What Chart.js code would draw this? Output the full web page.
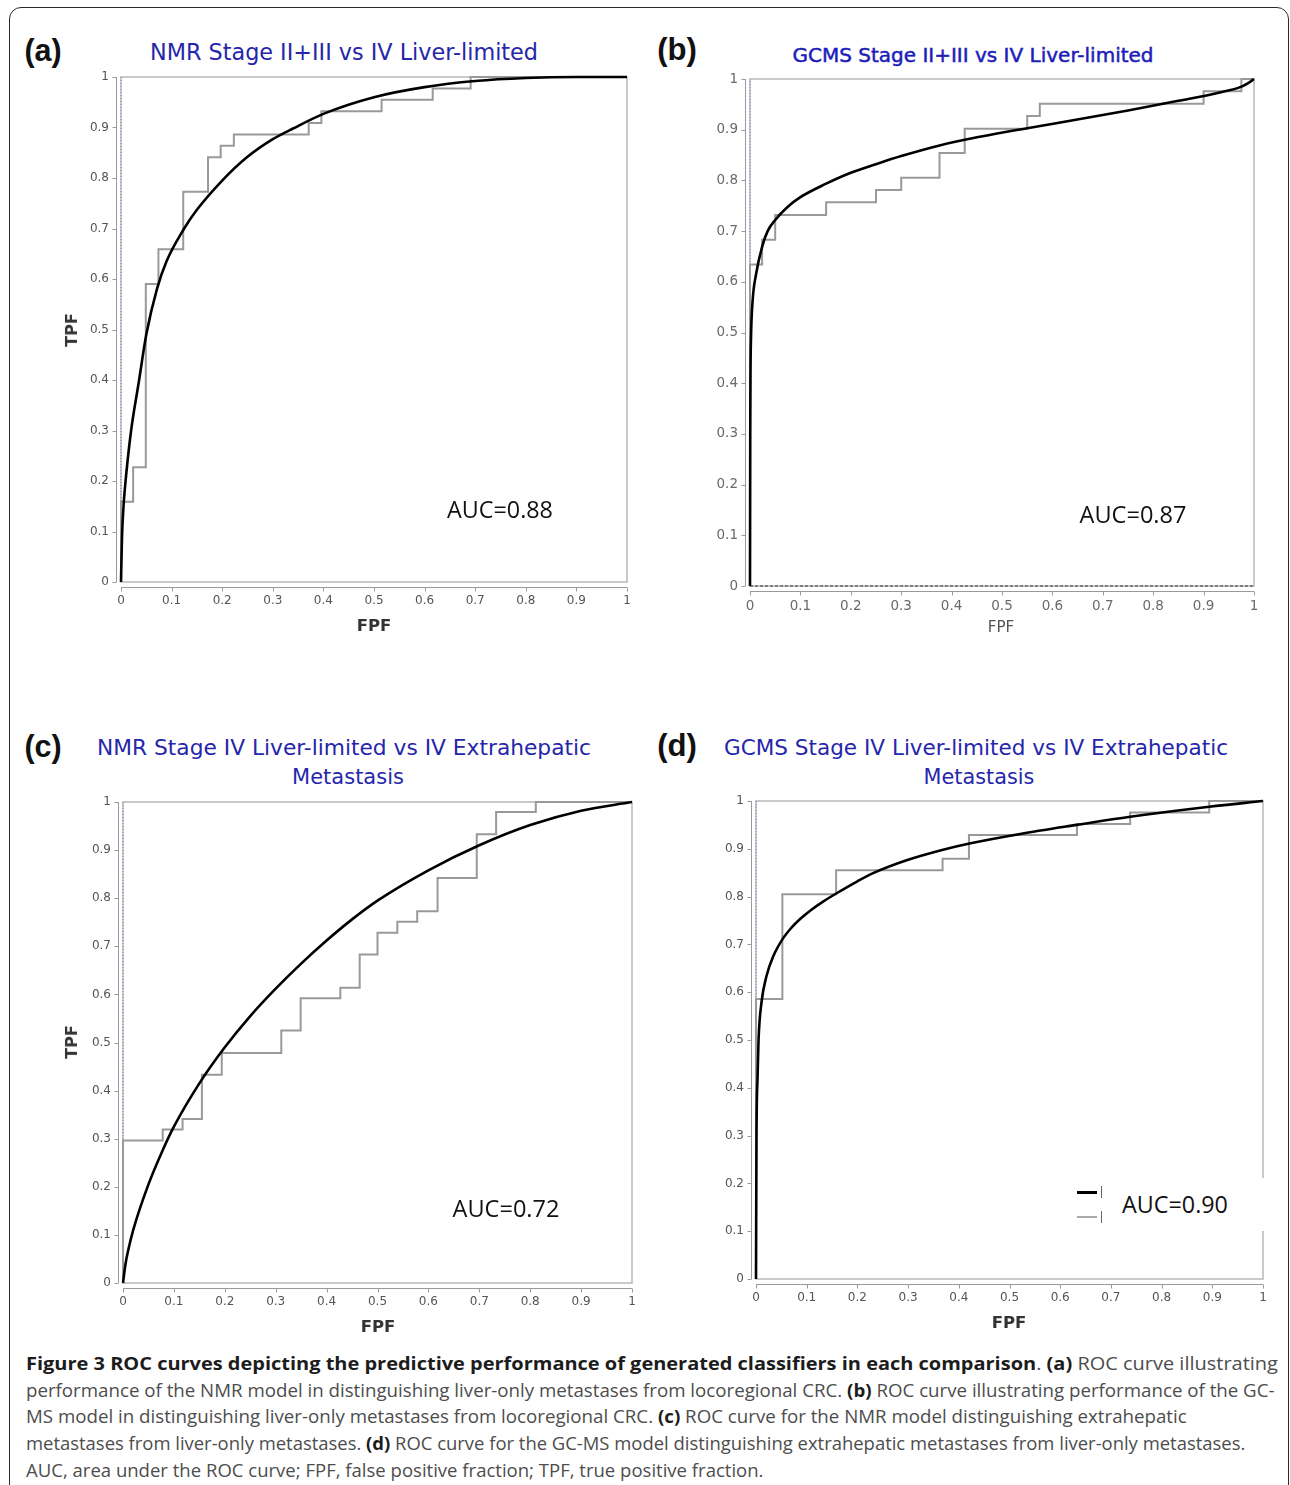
<!DOCTYPE html>
<html>
<head>
<meta charset="utf-8">
<script src="https://cdn.jsdelivr.net/npm/chart.js@4.4.1/dist/chart.umd.min.js"></script>
<style>
body { margin:0; background:#fff; overflow:hidden; }
#fig { position:relative; width:1290px; height:1485px; overflow:hidden; }
#frame { position:absolute; left:9px; top:7px; width:1278px; height:1540px; border:1.5px solid #2b2b2b; border-radius:12px; }
canvas { position:absolute; }
.t { position:absolute; white-space:nowrap; transform:translate(-50%,-50%); line-height:1; }
.cap { position:absolute; left:26px; white-space:nowrap; font-family:"Open Sans"; font-size:17.5px; color:#4d4d4d; transform-origin:0 50%; line-height:1; }
.cap b { color:#1c1c1c; }
#leg { position:absolute; left:1070px; top:1178px; width:200px; height:53px; background:#fff; }
.lg { position:absolute; }
</style>
</head>
<body>
<div id="fig">
  <div id="frame"></div>
</div>
<script>
// ---- data ----
// (a) NMR Stage II+III vs IV Liver-limited
const stepFprA = [0, 0, 0.024, 0.049, 0.074, 0.123, 0.172, 0.197, 0.223, 0.371, 0.396, 0.515, 0.616, 0.691, 1]
const stepTprA = [0, 0.159, 0.227, 0.590, 0.659, 0.773, 0.841, 0.864, 0.886, 0.909, 0.932, 0.955, 0.977, 1, 1]
const curveFprA = [0, 0.002, 0.005, 0.01, 0.02, 0.035, 0.05, 0.071, 0.09, 0.123, 0.15, 0.2, 0.25, 0.3, 0.34, 0.4, 0.5, 0.6, 0.7, 0.8, 0.9, 1]
const curveTprA = [0, 0.09, 0.15, 0.21, 0.30, 0.395, 0.49, 0.58, 0.635, 0.697, 0.737, 0.795, 0.842, 0.877, 0.898, 0.927, 0.96, 0.98, 0.992, 0.998, 1, 1]

// (b) GCMS Stage II+III vs IV Liver-limited
const stepFprB = [0, 0, 0.024, 0.050, 0.151, 0.250, 0.300, 0.376, 0.426, 0.550, 0.575, 0.900, 0.975, 1]
const stepTprB = [0, 0.634, 0.683, 0.732, 0.757, 0.781, 0.805, 0.854, 0.902, 0.927, 0.951, 0.976, 1, 1]
const curveFprB = [0, 0.0005, 0.001, 0.002, 0.005, 0.012, 0.024, 0.035, 0.05, 0.075, 0.1, 0.15, 0.2, 0.25, 0.3, 0.376, 0.456, 0.55, 0.655, 0.75, 0.85, 0.93, 0.975, 0.993, 1]
const curveTprB = [0, 0.30, 0.42, 0.49, 0.56, 0.615, 0.669, 0.70, 0.722, 0.748, 0.767, 0.793, 0.815, 0.832, 0.848, 0.869, 0.886, 0.903, 0.921, 0.938, 0.957, 0.973, 0.985, 0.995, 1]

// (c) NMR Stage IV Liver-limited vs IV Extrahepatic Metastasis
const stepFprC = [0, 0, 0.078, 0.117, 0.155, 0.194, 0.311, 0.349, 0.427, 0.465, 0.50, 0.539, 0.578, 0.618, 0.695, 0.733, 0.811, 1]
const stepTprC = [0, 0.296, 0.319, 0.341, 0.433, 0.478, 0.525, 0.592, 0.614, 0.683, 0.728, 0.751, 0.773, 0.842, 0.933, 0.979, 1, 1]
const curveFprC = [0, 0.005, 0.01, 0.02, 0.05, 0.078, 0.1, 0.15, 0.2, 0.25, 0.3, 0.35, 0.4, 0.45, 0.5, 0.6, 0.7, 0.8, 0.9, 1]
const curveTprC = [0, 0.04, 0.067, 0.11, 0.205, 0.276, 0.325, 0.415, 0.49, 0.555, 0.612, 0.664, 0.712, 0.756, 0.795, 0.858, 0.91, 0.952, 0.982, 1]

// (d) GCMS Stage IV Liver-limited vs IV Extrahepatic Metastasis
const stepFprD = [0, 0, 0.052, 0.158, 0.368, 0.42, 0.633, 0.738, 0.894, 1]
const stepTprD = [0, 0.586, 0.805, 0.855, 0.879, 0.929, 0.952, 0.976, 1, 1]
const curveFprD = [0, 0.001, 0.003, 0.005, 0.011, 0.021, 0.034, 0.053, 0.07, 0.087, 0.11, 0.133, 0.159, 0.2, 0.231, 0.297, 0.369, 0.421, 0.521, 0.633, 0.738, 0.894, 1]
const curveTprD = [0, 0.30, 0.42, 0.50, 0.58, 0.635, 0.675, 0.712, 0.735, 0.753, 0.773, 0.79, 0.807, 0.832, 0.849, 0.876, 0.898, 0.911, 0.931, 0.95, 0.967, 0.988, 1]

const tickValues = [0, 0.1, 0.2, 0.3, 0.4, 0.5, 0.6, 0.7, 0.8, 0.9, 1]
const aucLabels = ["AUC=0.88", "AUC=0.87", "AUC=0.72", "AUC=0.90"]

const fig = document.getElementById("fig")
const pts = (xs, ys) => xs.map((x, i) => ({x: x, y: ys[i]}))

// plot frame + detached axis lines like the original software draws them
const roAxes = {
  id: "roAxes",
  beforeDatasetsDraw(chart) {
    const ctx = chart.ctx, a = chart.chartArea
    const x = chart.scales.x, y = chart.scales.y
    ctx.save()
    ctx.strokeStyle = "#b8b8b8"
    ctx.lineWidth = 1.5
    ctx.strokeRect(a.left, a.top, a.right - a.left, a.bottom - a.top)
    ctx.strokeStyle = "#9a9a9a"
    ctx.lineWidth = 1
    ctx.beginPath()
    const ax = Math.round(a.left - 5) + 0.5, ay = Math.round(a.bottom + 5) + 0.5
    ctx.moveTo(ax, a.top); ctx.lineTo(ax, a.bottom)
    ctx.moveTo(a.left, ay); ctx.lineTo(a.right, ay)
    y.ticks.forEach(t => {
      const py = Math.round(y.getPixelForValue(t.value)) + 0.5
      ctx.moveTo(ax, py); ctx.lineTo(ax - 4, py)
    })
    x.ticks.forEach(t => {
      const px = Math.round(x.getPixelForValue(t.value)) + 0.5
      ctx.moveTo(px, ay); ctx.lineTo(px, ay + 4)
    })
    ctx.stroke()
    ctx.restore()
  }
}

function panel(box, steps, curve, tickFont, tickColor, extra) {
  const padL = 45, padT = 12, padR = 16, padB = 34
  const c = document.createElement("canvas")
  const w = box.R - box.L + padL + padR, h = box.B - box.T + padT + padB
  c.width = w; c.height = h
  c.style.left = (box.L - padL) + "px"
  c.style.top = (box.T - padT) + "px"
  c.style.width = w + "px"; c.style.height = h + "px"
  fig.appendChild(c)
  const datasets = [
    {data: curve, showLine: true, cubicInterpolationMode: "monotone", borderColor: "#000", borderWidth: 2.6, pointRadius: 0, order: 1, clip: 4},
    {data: steps, showLine: true, stepped: "before", borderColor: "#999", borderWidth: 2, pointRadius: 0, order: 2, clip: 4},
    {data: [{x: 0, y: 0}, {x: 0, y: 1}], showLine: true, borderColor: "#7d7dd8", borderWidth: 1, borderDash: [1, 2], pointRadius: 0, order: 3, clip: 4}
  ].concat(extra || [])
  const axis = (fit) => ({
    type: "linear", min: 0, max: 1,
    afterBuildTicks: s => { s.ticks = tickValues.map(v => ({value: v})) },
    ticks: {color: tickColor, font: tickFont, padding: 3, maxRotation: 0, autoSkip: false,
            callback: v => String(Math.round(v * 10) / 10)},
    grid: {display: false, tickLength: 9},
    border: {display: false},
    afterFit: fit
  })
  return new Chart(c, {
    type: "scatter",
    data: {datasets: datasets},
    options: {
      responsive: false, animation: false, devicePixelRatio: 1,
      layout: {padding: {left: 0, top: padT, right: padR, bottom: 0}},
      plugins: {legend: {display: false}, tooltip: {enabled: false}},
      scales: {x: axis(s => { s.height = padB }), y: axis(s => { s.width = padL })}
    },
    plugins: [roAxes]
  })
}

const smallTicks = {family: "DejaVu Sans", size: 12}
panel({L: 121, R: 627, T: 77, B: 582}, pts(stepFprA, stepTprA), pts(curveFprA, curveTprA), smallTicks, "#555")
panel({L: 750, R: 1254, T: 79, B: 586}, pts(stepFprB, stepTprB), pts(curveFprB, curveTprB), {family: "DejaVu Sans", size: 13.5}, "#6a6a6a",
  [{data: [{x: 0, y: 0}, {x: 1, y: 0}], showLine: true, borderColor: "#333", borderWidth: 1, borderDash: [3, 2], pointRadius: 0, order: 0, clip: 4}])
panel({L: 123, R: 632, T: 802, B: 1283}, pts(stepFprC, stepTprC), pts(curveFprC, curveTprC), smallTicks, "#555")
panel({L: 756, R: 1263, T: 801, B: 1279}, pts(stepFprD, stepTprD), pts(curveFprD, curveTprD), smallTicks, "#555")

// ---- texts ----
function put(text, cx, cy, css, w) {
  const el = document.createElement("div")
  el.className = "t"
  el.textContent = text
  Object.assign(el.style, css)
  el.style.left = cx + "px"
  el.style.top = cy + "px"
  fig.appendChild(el)
  if (w) {
    const fs = parseFloat(el.style.fontSize)
    el.style.fontSize = (fs * w / el.offsetWidth) + "px"
  }
  return el
}

const letter = {fontFamily: "Liberation Sans", fontWeight: "bold", fontSize: "28px", color: "#111"}
put("(a)", 43, 50, letter, 37)
put("(b)", 677, 50, letter, 40)
put("(c)", 43, 746, letter, 37)
put("(d)", 677, 746, letter, 40)

const title = {fontFamily: "DejaVu Sans", fontSize: "21px", color: "#2626aa"}
put("NMR Stage II+III vs IV Liver-limited", 344, 52, title, 388)
put("GCMS Stage II+III vs IV Liver-limited", 973, 55, Object.assign({}, title, {color: "#1d1dba", webkitTextStroke: "0.5px #1d1dba"}), 361)
put("NMR Stage IV Liver-limited vs IV Extrahepatic", 344, 748, title, 494)
put("Metastasis", 348, 777, title, 112)
put("GCMS Stage IV Liver-limited vs IV Extrahepatic", 976, 748, title, 504)
put("Metastasis", 979, 777, title, 111)

const auc = {fontFamily: "Open Sans", fontSize: "22px", color: "#111"}
put(aucLabels[0], 500, 510, auc, 106)
put(aucLabels[1], 1133, 515, auc, 107)
put(aucLabels[2], 506, 1209, auc, 107)

const axTitle = {fontFamily: "DejaVu Sans", fontWeight: "bold", fontSize: "17px", color: "#333"}
put("FPF", 374, 626, axTitle, 35)
put("FPF", 378, 1327, axTitle, 35)
put("FPF", 1009, 1323, axTitle, 35)
put("FPF", 1001, 628, {fontFamily: "DejaVu Sans", fontSize: "14px", color: "#555"}, 27)
put("TPF", 72, 330, Object.assign({}, axTitle, {transform: "translate(-50%,-50%) rotate(-90deg)"}), 34)
put("TPF", 72, 1042, Object.assign({}, axTitle, {transform: "translate(-50%,-50%) rotate(-90deg)"}), 34)

// legend box of panel (d)
const leg = document.createElement("div")
leg.id = "leg"
leg.innerHTML =
  '<div class="lg" style="left:7px;top:13px;width:20px;height:2.5px;background:#000"></div>' +
  '<div class="lg" style="left:7px;top:38px;width:20px;height:1.5px;background:#aaa"></div>' +
  '<div class="lg" style="left:31px;top:8px;width:1px;height:12px;background:#666"></div>' +
  '<div class="lg" style="left:31px;top:33px;width:1px;height:12px;background:#666"></div>'
fig.appendChild(leg)
put(aucLabels[3], 1175, 1205, auc, 106)

// ---- caption ----
const captionLines = [
  ["<b>Figure 3 ROC curves depicting the predictive performance of generated classifiers in each comparison</b>. <b>(a)</b> ROC curve illustrating", 1364, 1252],
  ["performance of the NMR model in distinguishing liver-only metastases from locoregional CRC. <b>(b)</b> ROC curve illustrating performance of the GC-", 1391, 1249],
  ["MS model in distinguishing liver-only metastases from locoregional CRC. <b>(c)</b> ROC curve for the NMR model distinguishing extrahepatic", 1417, 1161],
  ["metastases from liver-only metastases. <b>(d)</b> ROC curve for the GC-MS model distinguishing extrahepatic metastases from liver-only metastases.", 1444, 1219],
  ["AUC, area under the ROC curve; FPF, false positive fraction; TPF, true positive fraction.", 1471, 737]
]
captionLines.forEach(l => {
  const el = document.createElement("div")
  el.className = "cap"
  el.innerHTML = l[0]
  el.style.top = l[1] + "px"
  fig.appendChild(el)
  el.style.transform = "translateY(-50%) scaleX(" + (l[2] / el.offsetWidth) + ")"
})
</script>
</body>
</html>
